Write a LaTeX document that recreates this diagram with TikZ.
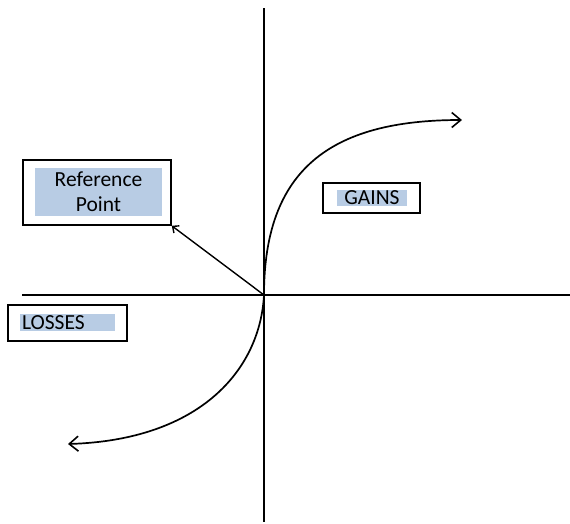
\documentclass[tikz,border=0pt]{standalone}
\usepackage{fontspec}
\setmainfont{Carlito}
\usetikzlibrary{arrows.meta}
\definecolor{hilite}{HTML}{B8CCE4}

\tikzset{
  outerbox/.style={draw=black, line width=1.6pt, fill=white, inner sep=0pt},
  hlbox/.style={fill=hilite, inner sep=0pt},
  axis/.style={line width=1.4pt},
  curve/.style={line width=1.7pt, -{Straight Barb[length=9pt,width=15pt,line width=1.6pt]}}
}

\begin{document}
\begin{tikzpicture}[x=1pt,y=-1pt,font=\fontsize{21.5}{25}\selectfont]
\useasboundingbox (0,0) rectangle (570,523);

\coordinate (O) at (264,295);
\coordinate (Ytop) at (264,8);
\coordinate (Ybot) at (264,522);
\coordinate (Xleft) at (22,295);
\coordinate (Xright) at (570,295);

\draw[axis] (Ytop) -- (Ybot);
\draw[axis] (Xleft) -- (Xright);

\node[outerbox, minimum width=148pt, minimum height=65pt] (RefBox) at (97,192.5) {};
\node[hlbox, minimum width=127pt, minimum height=48pt, align=center] (RefText) at (98.5,192) {Reference\\Point};

\node[outerbox, minimum width=97pt, minimum height=30pt] (GainBox) at (371.5,198) {};
\node[hlbox, minimum width=70pt, text height=14pt, text depth=2pt] (GainText) at (372,198) {GAINS};

\node[outerbox, minimum width=119pt, minimum height=36pt] (LossBox) at (67.5,323) {};
\node[hlbox, inner xsep=2pt, text width=91pt, align=left, text height=15pt, text depth=2pt] (LossText) at (67.5,322.5) {LOSSES};

\coordinate (GainEnd) at (462,120);
\coordinate (LossEnd) at (68,444);

\draw[curve] (O) .. controls (264,170) and (330,120) .. (GainEnd);
\draw[curve] (O) .. controls (260,370) and (200,440) .. (LossEnd);

\draw[line width=1.4pt, -{Straight Barb[length=5pt,width=9pt]}] (O) -- (RefBox.south east);

\end{tikzpicture}
\end{document}
